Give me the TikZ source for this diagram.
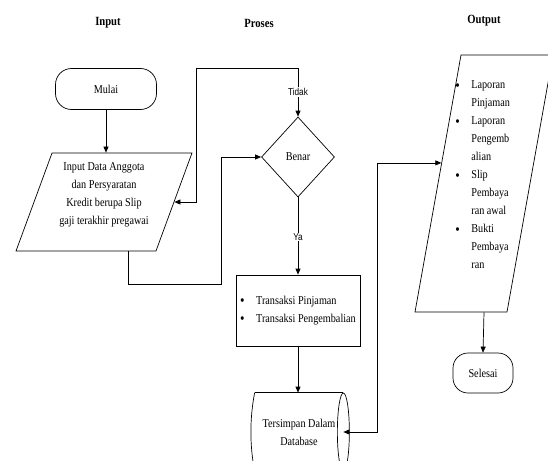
\documentclass[tikz,border=0pt]{standalone}
\usepackage{fontspec}
\setmainfont{Liberation Serif}[FakeStretch=0.85]
\newfontfamily\narrowsans{Liberation Sans}[FakeStretch=0.82]
\usetikzlibrary{shapes.geometric,arrows.meta,calc}
\newcommand{\lbul}{\makebox[16pt][l]{\smash{\raisebox{-1.5pt}{\fontsize{15}{15}\selectfont\textbullet}}}}
\newcommand{\lind}{\hspace*{16pt}}
\begin{document}
\begin{tikzpicture}[x=1pt,y=-1pt,font=\fontsize{12}{18}\selectfont,line width=0.7pt]
    \tikzstyle{term}=[draw,rectangle,rounded corners=16pt,minimum width=101pt,minimum height=41pt]
    \tikzstyle{io}=[draw,trapezium,trapezium stretches=true]
    \tikzstyle{dec}=[draw,diamond,minimum width=73pt,minimum height=80pt,inner sep=0pt]
    \tikzstyle{proc}=[draw,rectangle,minimum width=124pt,minimum height=71pt,align=left]
    \tikzstyle{head}=[font=\fontsize{12.5}{14}\selectfont\bfseries]
    \tikzstyle{lbl}=[fill=white,inner sep=1pt,font=\narrowsans\fontsize{10}{11}\selectfont]
    \tikzstyle{arr}=[-{Triangle[length=6pt,width=5pt]}]
    \tikzstyle{arrs}=[{Triangle[length=6pt,width=5pt]}-{Triangle[length=6pt,width=5pt]}]

    \useasboundingbox (0,0) rectangle (548,460);
    \clip (0,0) rectangle (548,460);

    % Judul kolom
    \node[head] (hin) at (108,23) {Input};
    \node[head] (hpr) at (259,23) {Proses};
    \node[head] (hout) at (484,21) {Output};

    % Input
    \node[term] (mulai) at (106,89) {Mulai};
    \node[io,trapezium left angle=70.9,trapezium right angle=109.1,minimum width=176pt,minimum height=98pt] (inp) at (104,202) {};
    \node[align=center] (inptxt) at (104,195) {Input Data Anggota\\dan Persyaratan\\Kredit berupa Slip\\gaji terakhir pregawai};

    % Proses
    \node[dec] (benar) at (298,157) {Benar};
    \node[proc] (trans) at (298,310.5) {\lbul Transaksi Pinjaman\\\lbul Transaksi Pengembalian};
    \node[align=center,minimum width=88pt,minimum height=78pt] (db) at (299,432) {Tersimpan Dalam\\Database};
    % bentuk database
    \draw (db.north west) -- (db.north east);
    \draw (db.north west) .. controls +(-5,26) and +(-5,-26) .. (db.south west);
    \draw (db.east) ellipse [x radius=6pt,y radius=39pt];

    % Output
    \begin{scope}[shift={(484,183.5)},xslant=0.179]
      \node[draw,transform shape,minimum width=92pt,minimum height=257pt] (out) at (0,0) {};
    \end{scope}
    \node[align=left,anchor=west,inner sep=0pt] (outtxt) at (455,175) {\lbul Laporan\\\lind Pinjaman\\\lbul Laporan\\\lind Pengemb\\\lind alian\\\lbul Slip\\\lind Pembaya\\\lind ran awal\\\lbul Bukti\\\lind Pembaya\\\lind ran};
    \node[term,rounded corners=15pt,minimum width=60pt,minimum height=40pt] (selesai) at (483,373) {Selesai};

    % Garis alur
    \draw[arr] (mulai.south) -- (mulai.south |- inp.north);
    \draw[arrs] (inp.east) -| ++(22,-134) -| (benar.north);
    \node[lbl] (tidak) at (298,92) {Tidak};
    \draw[arr] ([xshift=24pt]inp.south) |- ++(93,33) |- (benar.west);
    \draw[arr] (benar.south) -- (trans.north);
    \node[lbl] (ya) at (298,237) {Ya};
    \draw[arr] (trans.south) -- (trans.south |- db.north);
    \coordinate (outin) at ($(out.south west)!0.58!(out.north west)$);
    \draw[arrs] (db.east) -- ++(34,0) |- (outin);
    \draw[arr] (out.center |- out.south) -- (selesai.north);
\end{tikzpicture}
\end{document}
